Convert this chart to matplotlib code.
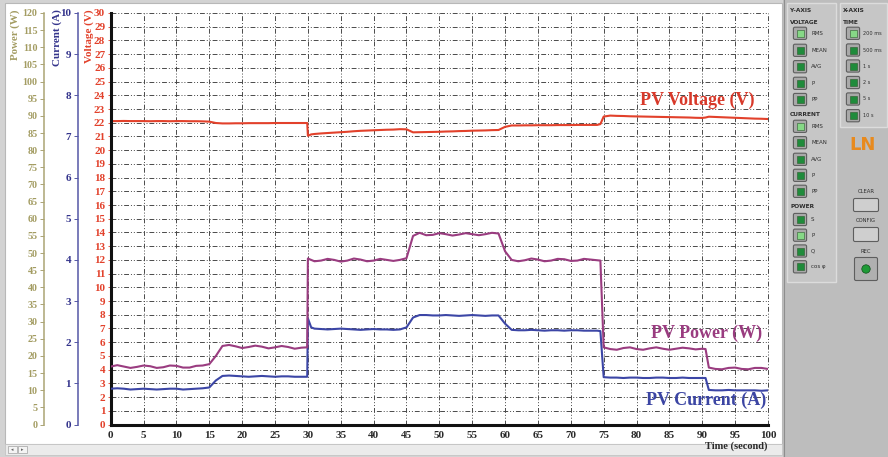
import matplotlib
matplotlib.use("Agg")
import matplotlib.pyplot as plt
from matplotlib.patches import Rectangle, FancyBboxPatch, Circle

# ---------------------------------------------------------------- data
time_s = [0, 1, 2, 3, 4, 5, 6, 7, 8, 9, 10, 11, 12, 13, 14, 15,
          16, 17, 18, 19, 20, 21, 22, 23, 24, 25, 26, 27, 28, 29, 29.9,
          30, 30.5, 31, 32, 33, 34, 35, 36, 37, 38, 39, 40, 41, 42, 43, 44, 45,
          46, 47, 48, 49, 50, 51, 52, 53, 54, 55, 56, 57, 58, 59,
          60, 61, 62, 63, 64, 65, 66, 67, 68, 69, 70, 71, 72, 73, 74, 74.5,
          75, 76, 77, 78, 79, 80, 81, 82, 83, 84, 85, 86, 87, 88, 89, 90, 90.5,
          91, 92, 93, 94, 95, 96, 97, 98, 99, 100]

power_w = [16.9, 17.3, 16.9, 16.5, 16.8, 17.2, 17.0, 16.5, 16.7, 17.2, 17.1, 16.6, 16.6, 17.1, 17.2, 17.6,
           20.0, 22.9, 23.2, 22.8, 22.3, 22.6, 23.0, 22.7, 22.2, 22.5, 22.9, 22.6, 22.1, 22.4, 22.5,
           48.4, 48.0, 47.6, 47.8, 48.3, 48.0, 47.5, 47.8, 48.4, 48.1, 47.6, 47.8, 48.3, 48.0, 47.7, 48.0, 48.5,
           55.0, 55.9, 55.2, 55.3, 55.8, 55.5, 55.1, 55.4, 55.8, 55.5, 55.2, 55.5, 55.9, 55.7,
           50.5, 48.0, 47.6, 47.9, 48.4, 48.1, 47.6, 47.8, 48.3, 48.2, 47.7, 47.8, 48.3, 48.1, 47.9, 47.8,
           22.5, 22.0, 21.8, 22.3, 22.5, 22.0, 21.8, 22.2, 22.5, 22.1, 21.8, 22.1, 22.4, 22.2, 21.9, 22.1, 22.0,
           16.6, 16.2, 16.1, 16.5, 16.6, 16.2, 16.1, 16.5, 16.5, 16.2]

current_a = [0.87, 0.88, 0.87, 0.85, 0.86, 0.87, 0.86, 0.85, 0.86, 0.87, 0.87, 0.85, 0.86, 0.87, 0.88, 0.90,
             1.07, 1.18, 1.19, 1.18, 1.17, 1.16, 1.17, 1.18, 1.17, 1.16, 1.17, 1.17, 1.16, 1.16, 1.16,
             2.58, 2.36, 2.33, 2.32, 2.31, 2.32, 2.33, 2.32, 2.31, 2.30, 2.31, 2.32, 2.31, 2.31, 2.30, 2.31, 2.36,
             2.60, 2.66, 2.66, 2.65, 2.65, 2.66, 2.65, 2.64, 2.65, 2.66, 2.65, 2.64, 2.65, 2.65,
             2.45, 2.30, 2.29, 2.29, 2.30, 2.29, 2.28, 2.29, 2.29, 2.28, 2.29, 2.29, 2.28, 2.28, 2.28, 2.27,
             1.15, 1.14, 1.14, 1.13, 1.14, 1.14, 1.13, 1.13, 1.14, 1.14, 1.13, 1.13, 1.14, 1.13, 1.13, 1.13, 1.13,
             0.84, 0.83, 0.83, 0.84, 0.83, 0.83, 0.83, 0.83, 0.82, 0.83]

voltage_v = [22.12, 22.12, 22.13, 22.12, 22.12, 22.12, 22.11, 22.12, 22.12, 22.11, 22.12, 22.12, 22.11, 22.11, 22.10, 22.08,
             21.98, 21.95, 21.95, 21.96, 21.96, 21.97, 21.97, 21.97, 21.97, 21.98, 21.98, 21.98, 21.98, 21.98, 21.98,
             21.05, 21.15, 21.18, 21.22, 21.25, 21.28, 21.31, 21.34, 21.38, 21.41, 21.43, 21.45, 21.47, 21.49, 21.50, 21.53, 21.52,
             21.30, 21.31, 21.32, 21.33, 21.34, 21.36, 21.37, 21.39, 21.40, 21.42, 21.43, 21.44, 21.46, 21.47,
             21.70, 21.80, 21.80, 21.81, 21.81, 21.82, 21.82, 21.82, 21.83, 21.83, 21.83, 21.84, 21.84, 21.84, 21.84, 21.90,
             22.45, 22.52, 22.50, 22.49, 22.47, 22.46, 22.45, 22.44, 22.43, 22.42, 22.41, 22.40, 22.39, 22.38, 22.36, 22.35, 22.38,
             22.44, 22.42, 22.40, 22.38, 22.36, 22.34, 22.32, 22.30, 22.29, 22.27]

x_ticks = list(range(0, 101, 5))
voltage_ticks = list(range(0, 31))
current_ticks = list(range(0, 11))
power_ticks = list(range(0, 121, 5))

# ---------------------------------------------------------------- styles
SERIF = "Liberation Serif"
C_VOLT = "#e2412b"
C_CURR = "#3c46a6"
C_POW = "#9a3c80"
C_POW_AX = "#a39c62"
C_CURR_AX = "#34348c"
W, H = 888, 457

fig = plt.figure(figsize=(W / 100, H / 100), dpi=100)
fig.patch.set_facecolor("#d3d3d3")

# window background drawn in pixel coordinates
bg = fig.add_axes([0, 0, 1, 1])
bg.set_xlim(0, W)
bg.set_ylim(H, 0)
bg.axis("off")

bg.add_patch(Rectangle((5, 3), 777, 441, facecolor="white", edgecolor="#b8b8b8", lw=0.8))
bg.add_patch(Rectangle((5, 444), 777, 11, facecolor="#ebebeb", edgecolor="#c4c4c4", lw=0.6))
for bx, arrow in ((8, "\u25c2"), (18, "\u25b8")):
    bg.add_patch(Rectangle((bx, 446), 9, 7, facecolor="#f4f4f4", edgecolor="#a0a0a0", lw=0.5))
    bg.text(bx + 4.5, 449.5, arrow, fontsize=3.5, ha="center", va="center", color="#606060")

# control panel on the right
bg.add_patch(Rectangle((783, 0), W - 783, H, facecolor="#bdbdbd", edgecolor="none"))
bg.plot([783.5, 783.5], [0, H], color="#8e8e8e", lw=0.8)
bg.add_patch(Rectangle((787, 3), 49, 279, facecolor="#c6c6c6", edgecolor="#dcdcdc", lw=1.0))
bg.add_patch(Rectangle((840, 3), 47, 124, facecolor="#c6c6c6", edgecolor="#dcdcdc", lw=1.0))


def panel_button(cx, cy, active):
    bg.add_patch(FancyBboxPatch((cx - 6, cy - 5.5), 12, 11,
                                boxstyle="round,pad=0.6,rounding_size=1.5",
                                facecolor="#a9a9a9", edgecolor="#5e5e5e", lw=0.8))
    bg.add_patch(Rectangle((cx - 3.5, cy - 3.5), 7, 7,
                           facecolor="#86d886" if active else "#1f8b3b",
                           edgecolor="#2c5a2c", lw=0.4))


def panel_text(x, y, s, bold=False, size=4.0, ha="left"):
    bg.text(x, y, s, fontsize=size, fontweight="bold" if bold else "normal",
            ha=ha, va="center", color="#2e2e2e", family="DejaVu Sans")


panel_text(790, 10.7, "Y-AXIS", bold=True, size=4.2)
panel_text(790, 22.7, "VOLTAGE", bold=True, size=4.2)
for i, (yy, lab) in enumerate(zip([33.3, 50.3, 66.7, 83.3, 99.5], ["RMS", "MEAN", "AVG", "P", "PP"])):
    panel_button(800, yy, i == 0)
    panel_text(811, yy, lab)
panel_text(790, 114.3, "CURRENT", bold=True, size=4.2)
for i, (yy, lab) in enumerate(zip([126.3, 142.7, 159.3, 175.3, 191.3], ["RMS", "MEAN", "AVG", "P", "PP"])):
    panel_button(800, yy, i == 0)
    panel_text(811, yy, lab)
panel_text(790, 206, "POWER", bold=True, size=4.2)
for i, (yy, lab) in enumerate(zip([219.5, 235.2, 251, 266.8], ["S", "P", "Q", "cos \u03c6"])):
    panel_button(800, yy, i == 1)
    panel_text(811, yy, lab)

panel_text(843, 10.7, "X-AXIS", bold=True, size=4.2)
panel_text(843, 22.7, "TIME", bold=True, size=4.2)
for i, (yy, lab) in enumerate(zip([33.3, 50, 66, 82.5, 99, 115.7],
                                  ["200 ms", "500 ms", "1 s", "2 s", "5 s", "10 s"])):
    panel_button(853, yy, i == 0)
    panel_text(863, yy, lab, size=3.6)

bg.text(863, 145, "LN", fontsize=13, fontweight="bold", color="#e88a1e",
        ha="center", va="center", family="DejaVu Sans")

panel_text(866, 191.5, "CLEAR", size=3.8, ha="center")
bg.add_patch(FancyBboxPatch((854, 199), 24, 12, boxstyle="round,pad=0.5,rounding_size=1.5",
                            facecolor="#cfcfcf", edgecolor="#5e5e5e", lw=0.8))
panel_text(866, 220, "CONFIG", size=3.8, ha="center")
bg.add_patch(FancyBboxPatch((854, 228), 24, 13, boxstyle="round,pad=0.5,rounding_size=1.5",
                            facecolor="#cfcfcf", edgecolor="#5e5e5e", lw=0.8))
panel_text(866, 251.5, "REC", size=3.8, ha="center")
bg.add_patch(FancyBboxPatch((855, 258), 22, 22, boxstyle="round,pad=0.5,rounding_size=1.5",
                            facecolor="#b0b0b0", edgecolor="#5e5e5e", lw=0.8))
bg.add_patch(Circle((866, 269), 4.2, facecolor="#1e9a36", edgecolor="#0f4f1a", lw=0.5))

# ---------------------------------------------------------------- chart
left, right, top, bottom = 110.7, 768.0, 13.0, 424.5
ax = fig.add_axes([left / W, (H - bottom) / H, (right - left) / W, (bottom - top) / H])
ax.set_facecolor("none")
ax.set_xlim(0, 100)
ax.set_ylim(0, 30)
ax.set_xticks(x_ticks)
ax.set_yticks(voltage_ticks)
ax.grid(True, color="#4a4a4a", linestyle=(0, (5, 2, 1, 2, 1, 2)), linewidth=0.7)
for g in ax.get_xgridlines() + ax.get_ygridlines():
    g.set_clip_on(False)
for s in ("top", "right"):
    ax.spines[s].set_visible(False)
for s in ("left", "bottom"):
    ax.spines[s].set_linewidth(2.2)
    ax.spines[s].set_color("#111111")
ax.tick_params(axis="x", length=0, pad=5, labelsize=8, labelcolor="#2a2a2a")
ax.tick_params(axis="y", length=2, width=0.6, pad=2, labelsize=8, labelcolor=C_VOLT, color=C_VOLT)
for lab in ax.get_xticklabels() + ax.get_yticklabels():
    lab.set_fontfamily(SERIF)
    lab.set_fontweight("bold")

ax.plot(time_s, voltage_v, color=C_VOLT, lw=1.5)


def side_axis(offset, ylim, ticks, color, labelcolor, size):
    tw = ax.twinx()
    tw.set_facecolor("none")
    for s in ("top", "right", "bottom"):
        tw.spines[s].set_visible(False)
    tw.spines["left"].set_visible(True)
    tw.spines["left"].set_position(("axes", offset))
    tw.spines["left"].set_color(color)
    tw.spines["left"].set_linewidth(1.1)
    tw.yaxis.set_ticks_position("left")
    tw.yaxis.set_label_position("left")
    tw.set_ylim(*ylim)
    tw.set_yticks(ticks)
    tw.tick_params(axis="y", length=3, width=0.7, pad=2, color=color,
                   labelsize=size, labelcolor=labelcolor)
    for lab in tw.get_yticklabels():
        lab.set_fontfamily(SERIF)
        lab.set_fontweight("bold")
    return tw


ax_c = side_axis((78 - left) / (right - left), (0, 10), current_ticks, "#5557a6", C_CURR_AX, 8)
ax_p = side_axis((44.5 - left) / (right - left), (0, 120), power_ticks, "#aba474", C_POW_AX, 7.2)

ax_p.plot(time_s, power_w, color=C_POW, lw=1.5)
ax_c.plot(time_s, current_a, color=C_CURR, lw=1.5)

# axis titles, placed near the top of each scale
bg.text(15.5, 10, "Power (W)", rotation=90, ha="center", va="top", fontsize=7.8,
        fontweight="bold", color=C_POW_AX, family=SERIF)
bg.text(57, 9, "Current (A)", rotation=90, ha="center", va="top", fontsize=8,
        fontweight="bold", color=C_CURR_AX, family=SERIF)
bg.text(89, 9, "Voltage (V)", rotation=90, ha="center", va="top", fontsize=8,
        fontweight="bold", color=C_VOLT, family=SERIF)
bg.text(767, 446, "Time (second)", ha="right", va="center", fontsize=7.5,
        fontweight="bold", color="#2a2a2a", family=SERIF)

# curve names
ax.text(89.2, 23.6, "PV Voltage (V)", ha="center", va="center", fontsize=13,
        fontweight="bold", color="#d8392a", family=SERIF)
ax.text(90.6, 6.65, "PV Power (W)", ha="center", va="center", fontsize=13,
        fontweight="bold", color="#9a3c80", family=SERIF)
ax.text(90.6, 1.75, "PV Current (A)", ha="center", va="center", fontsize=13,
        fontweight="bold", color="#3b45a3", family=SERIF)

fig.savefig("out.png", dpi=100, facecolor=fig.get_facecolor())
